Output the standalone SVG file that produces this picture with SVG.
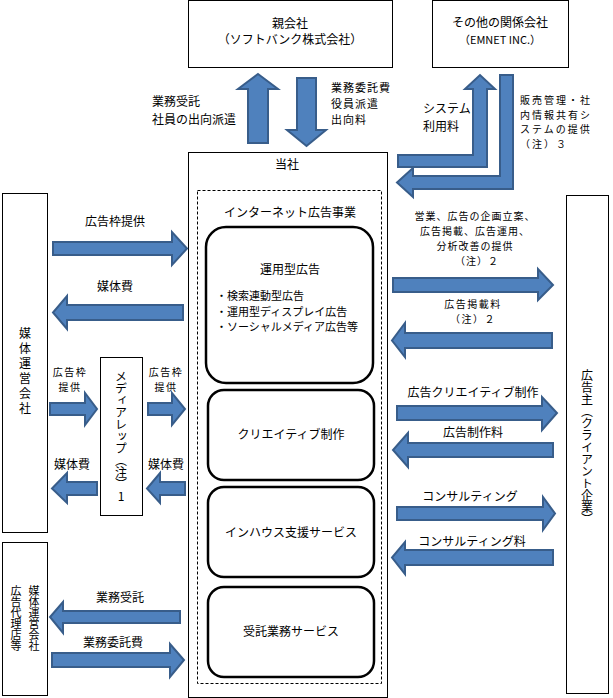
<svg xmlns="http://www.w3.org/2000/svg" width="613" height="698" viewBox="0 0 613 698">
<style>
text{font-family:"Noto Sans CJK JP","Noto Sans CJK SC",sans-serif;font-size:12px;fill:#000}
.c{text-anchor:middle}
.s{font-size:11px}
.t{font-size:10px;letter-spacing:1.5px}
.box{fill:#fff;stroke:#000;stroke-width:1}
.rbox{fill:#fff;stroke:#000;stroke-width:2.5}
.dash{fill:none;stroke:#000;stroke-width:1;stroke-dasharray:3,2}
.arr{fill:#4F81BD;stroke:#385D8A;stroke-width:2;stroke-linejoin:miter}
.v{writing-mode:vertical-rl;text-anchor:middle}
</style>
<rect width="613" height="698" fill="#fff"/>

<g id="parent">
<rect class="box" x="188.5" y="0.5" width="204" height="67"/>
<text class="c" x="290" y="28">親会社<tspan x="290" dy="16">（ソフトバンク株式会社）</tspan></text>
</g>

<g id="affiliate">
<rect class="box" x="432.5" y="0.5" width="136" height="67"/>
<text class="c" x="500" y="27">その他の関係会社<tspan class="s" x="500" dy="17">（EMNET INC.）</tspan></text>
</g>

<g id="company">
<rect class="box" x="188.5" y="152.5" width="199" height="545"/>
<text class="c" x="287" y="169">当社</text>
<rect class="dash" x="197.5" y="190.5" width="184" height="493"/>
<text class="c" x="290" y="217">インターネット広告事業</text>
</g>

<g id="unyou">
<rect class="rbox" x="206" y="227" width="167" height="156" rx="20"/>
<text class="c" x="290" y="274">運用型広告</text>
<text class="s" x="216" y="300">・検索連動型広告<tspan x="216" dy="15.5">・運用型ディスプレイ広告</tspan><tspan x="216" dy="15.5">・ソーシャルメディア広告等</tspan></text>
</g>

<g id="creative">
<rect class="rbox" x="208" y="390" width="166" height="90" rx="16"/>
<text class="c" x="291" y="439">クリエイティブ制作</text>
</g>

<g id="inhouse">
<rect class="rbox" x="208" y="487" width="166" height="90" rx="16"/>
<text class="c" x="291" y="537">インハウス支援サービス</text>
</g>

<g id="jutaku">
<rect class="rbox" x="208" y="587" width="166" height="90" rx="16"/>
<text class="c" x="291" y="636">受託業務サービス</text>
</g>

<g id="media">
<rect class="box" x="2.5" y="193.5" width="45" height="339"/>
<text class="v" x="25" y="372" style="letter-spacing:3px">媒体運営会社</text>
</g>

<g id="mediarep">
<rect class="box" x="100.5" y="357.5" width="42" height="158"/>
<text class="v" x="121" y="436">メディアレップ（注）<tspan style="text-orientation:upright">1</tspan></text>
</g>

<g id="agency">
<rect class="box" x="2.5" y="542.5" width="45" height="153"/>
<text class="v s" x="34" y="618">媒体運営会社</text>
<text class="v s" x="16" y="618">広告代理店等</text>
</g>

<g id="client">
<rect class="box" x="566.5" y="195.5" width="42" height="498"/>
<text class="v" x="587" y="447">広告主（クライアント企業）</text>
</g>

<g id="connectors">
<polygon class="arr" points="258,74 278,89 268,89 268,143 248,143 248,89 238,89"/>
<polygon class="arr" points="297,78 316,78 316,130 326,130 306.5,146 287,130 297,130"/>
<polygon class="arr" points="398,155 473,155 473,89 465,89 480,75 495,89 487,89 487,167 398,167"/>
<polygon class="arr" points="500,75 513,75 513,189 413,189 413,197 397,182.5 413,168 413,176 500,176"/>

<polygon class="arr" points="53,242 172,242 172,232 187,248.5 172,265 172,255 53,255"/>
<polygon class="arr" points="183,305 67,305 67,296 53,312.5 67,329 67,320 183,320"/>
<polygon class="arr" points="50,403 85,403 85,393 97,409 85,425 85,415 50,415"/>
<polygon class="arr" points="97,482 67,482 67,473 52,488.5 67,503 67,495 97,495"/>
<polygon class="arr" points="148,403 172,403 172,393 185,409 172,425 172,415 148,415"/>
<polygon class="arr" points="185,482 160,482 160,473 147,488.5 160,503 160,495 185,495"/>
<polygon class="arr" points="180,611 63,611 63,602 50,617 63,633 63,623 180,623"/>
<polygon class="arr" points="52,653 170,653 170,644 184,660 170,677 170,667 52,667"/>

<polygon class="arr" points="393,278 538,278 538,269 553,285 538,300 538,292 393,292"/>
<polygon class="arr" points="552,333 405,333 405,323 392,340.5 405,357 405,348 552,348"/>
<polygon class="arr" points="397,406 542,406 542,397 557,413 542,430 542,420 397,420"/>
<polygon class="arr" points="553,443 408,443 408,433 393,450 408,467 408,457 553,457"/>
<polygon class="arr" points="397,507 543,507 543,497 555,513.5 543,530 543,520 397,520"/>
<polygon class="arr" points="553,550 405,550 405,542 392,557.5 405,574 405,565 553,565"/>
</g>

<g id="labels">
<text x="152" y="106">業務受託<tspan x="152" dy="17.5">社員の出向派遣</tspan></text>
<text class="s" x="331" y="92" style="letter-spacing:1px">業務委託費<tspan x="331" dy="16">役員派遣</tspan><tspan x="331" dy="16">出向料</tspan></text>
<text x="423" y="113">システム<tspan x="423" dy="17.5">利用料</tspan></text>
<text class="t" x="520" y="104" style="letter-spacing:2px">販売管理・社<tspan x="520" dy="14.5">内情報共有シ</tspan><tspan x="520" dy="14.5">ステムの提供</tspan><tspan x="520" dy="14.5">（注）３</tspan></text>

<text class="c" x="115" y="226">広告枠提供</text>
<text class="c" x="115" y="291">媒体費</text>
<text class="c t" x="70" y="376">広告枠<tspan x="70" dy="14.5">提供</tspan></text>
<text class="c t" x="166" y="376">広告枠<tspan x="166" dy="14.5">提供</tspan></text>
<text class="c" x="72" y="469">媒体費</text>
<text class="c" x="166" y="469">媒体費</text>
<text class="c" x="120" y="602">業務受託</text>
<text class="c" x="113" y="647">業務委託費</text>

<text class="c t" x="475" y="220" style="letter-spacing:1px">営業、広告の企画立案、<tspan x="475" dy="15">広告掲載、広告運用、</tspan><tspan x="475" dy="15">分析改善の提供</tspan><tspan x="477" dy="15">（注）２</tspan></text>
<text class="c t" x="473" y="308">広告掲載料<tspan x="473" dy="14.5">（注）２</tspan></text>
<text class="c" x="473" y="397">広告クリエイティブ制作</text>
<text class="c" x="473" y="437">広告制作料</text>
<text class="c" x="470" y="501">コンサルティング</text>
<text class="c" x="472" y="546">コンサルティング料</text>
</g>
</svg>
